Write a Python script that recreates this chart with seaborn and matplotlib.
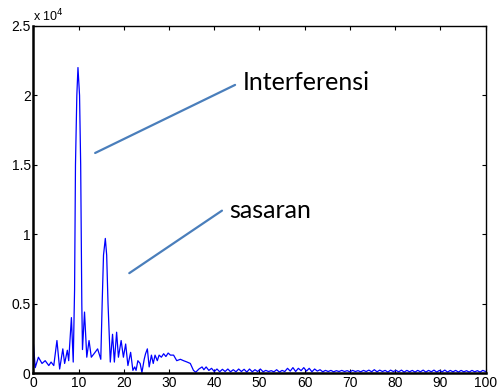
import matplotlib
matplotlib.use("Agg")
import matplotlib.pyplot as plt
import seaborn as sns
import pandas as pd

# frequency axis and amplitude (units of 10^4)
freq = [0.0, 0.4, 1.1, 1.9, 2.6, 3.4, 3.9, 4.5, 5.2, 5.8, 6.5, 6.9, 7.5, 7.8, 8.4, 8.8,
        9.1, 9.3, 9.6, 9.85, 10.2, 10.45, 10.7, 10.85, 11.3, 11.8, 12.3, 12.8, 13.4, 14.2, 14.9,
        15.2, 15.5, 15.9, 16.2, 16.5, 17.0, 17.5, 17.9, 18.4, 18.8, 19.4, 19.9, 20.4, 20.9,
        21.5, 22.0, 22.4, 22.7, 23.1, 23.6, 24.0, 24.5, 24.8, 25.2, 25.6, 26.1, 26.5, 26.9,
        27.4, 27.8, 28.3, 28.8, 29.3, 29.8, 30.3, 31.0, 31.7, 32.5, 33.2, 34.0, 34.7, 35.4,
        35.9, 36.6, 37.3, 37.7, 38.2, 38.8, 39.4, 40.0, 40.6, 41.2, 41.8, 42.4, 43.0, 43.6,
        44.2, 44.8, 45.4, 46.0, 46.6, 47.2, 47.8, 48.4, 49.0, 49.6, 50.2, 50.8, 51.4, 52.0,
        52.6, 53.2, 53.8, 54.4, 55.0, 55.6, 56.2, 56.8, 57.4, 58.0, 58.6, 59.2, 59.8, 60.4,
        61.0, 61.6, 62.2, 62.8, 63.4, 64.0, 64.6, 65.2, 65.8, 66.4, 67.0, 67.6, 68.2, 68.8,
        69.4, 70.0, 70.6, 71.2, 71.8, 72.4, 73.0, 73.6, 74.2, 74.8, 75.4, 76.0, 76.6, 77.2,
        77.8, 78.4, 79.0, 79.6, 80.2, 80.8, 81.4, 82.0, 82.6, 83.2, 83.8, 84.4, 85.0, 85.6,
        86.2, 86.8, 87.4, 88.0, 88.6, 89.2, 89.8, 90.4, 91.0, 91.6, 92.2, 92.8, 93.4, 94.0,
        94.6, 95.2, 95.8, 96.4, 97.0, 97.6, 98.2, 98.8, 99.4, 100.0]
amplitude = [0.21, 0.04, 0.115, 0.07, 0.09, 0.055, 0.08, 0.055, 0.235, 0.03, 0.175, 0.07, 0.165, 0.09, 0.40, 0.08,
             0.6, 1.5, 2.0, 2.2, 2.0, 1.5, 0.5, 0.17, 0.44, 0.115, 0.235, 0.115, 0.14, 0.175, 0.10,
             0.5, 0.85, 0.97, 0.85, 0.5, 0.08, 0.28, 0.08, 0.295, 0.115, 0.235, 0.115, 0.21, 0.055,
             0.15, 0.02, 0.045, 0.02, 0.09, 0.07, 0.005, 0.10, 0.14, 0.175, 0.045, 0.13, 0.07, 0.13,
             0.09, 0.13, 0.115, 0.14, 0.12, 0.145, 0.13, 0.13, 0.09, 0.10, 0.09, 0.08, 0.07, 0.02,
             0.007, 0.03, 0.045, 0.025, 0.045, 0.02, 0.035, 0.012, 0.03, 0.01, 0.028, 0.012, 0.03, 0.01,
             0.025, 0.01, 0.03, 0.012, 0.028, 0.008, 0.03, 0.01, 0.025, 0.012, 0.03, 0.01, 0.02, 0.012,
             0.018, 0.01, 0.025, 0.008, 0.02, 0.012, 0.035, 0.015, 0.04, 0.012, 0.035, 0.018, 0.04, 0.015,
             0.035, 0.01, 0.03, 0.015, 0.025, 0.01, 0.02, 0.012, 0.02, 0.01, 0.018, 0.012, 0.02, 0.012,
             0.018, 0.01, 0.02, 0.012, 0.018, 0.01, 0.02, 0.012, 0.022, 0.01, 0.025, 0.01, 0.022, 0.012,
             0.02, 0.008, 0.022, 0.012, 0.02, 0.01, 0.022, 0.008, 0.02, 0.01, 0.02, 0.008, 0.02, 0.01,
             0.022, 0.008, 0.02, 0.01, 0.022, 0.008, 0.02, 0.01, 0.022, 0.008, 0.02, 0.01, 0.02, 0.008,
             0.02, 0.01, 0.018, 0.008, 0.02, 0.01, 0.018, 0.008, 0.02, 0.012]

xticks = [0, 10, 20, 30, 40, 50, 60, 70, 80, 90, 100]
yticks = [0, 0.5, 1, 1.5, 2, 2.5]
ytick_labels = ["0", "0.5", "1", "1.5", "2", "2.5"]

labels = ["Interferensi", "sasaran"]

sns.set_theme(style="white")
plt.rcParams['font.family'] = ['Liberation Sans', 'DejaVu Sans']
plt.rcParams['text.color'] = 'black'

df = pd.DataFrame({"freq": freq, "amp": amplitude})

fig = plt.figure(figsize=(4.99, 3.92), dpi=100)
ax = fig.add_axes([0.067, 0.048, 0.906, 0.886])
sns.lineplot(data=df, x="freq", y="amp", color="#0000ff", linewidth=0.9, ax=ax)

ax.set_xlim(0, 100)
ax.set_ylim(0, 2.5)
ax.set_xticks(xticks)
ax.set_xticklabels([str(t) for t in xticks], fontsize=10)
ax.set_yticks(yticks)
ax.set_yticklabels(ytick_labels, fontsize=10)
ax.set_xlabel("")
ax.set_ylabel("")
ax.tick_params(direction="in", length=3, width=0.8, top=True, right=True,
               bottom=True, left=True, pad=2, colors="black")
for s in ax.spines.values():
    s.set_color("black")
    s.set_linewidth(1.0)
ax.spines['left'].set_linewidth(1.8)
ax.spines['bottom'].set_linewidth(1.8)

ax.text(0.0, 1.005, "x 10$^{4}$", transform=ax.transAxes, fontsize=9,
        ha="left", va="bottom", color="black")

# annotation lines
ax.plot([13.65, 44.6], [1.585, 2.075], color="#4a7ebb", linewidth=1.6)
ax.plot([21.2, 41.7], [0.72, 1.17], color="#4a7ebb", linewidth=1.6)
ax.text(46.2, 2.04, labels[0], fontsize=18, family=["Lato", "DejaVu Sans"],
        ha="left", va="baseline", color="black")
ax.text(43.3, 1.12, labels[1], fontsize=18, family=["Lato", "DejaVu Sans"],
        ha="left", va="baseline", color="black")

fig.savefig("out.png", dpi=100)
